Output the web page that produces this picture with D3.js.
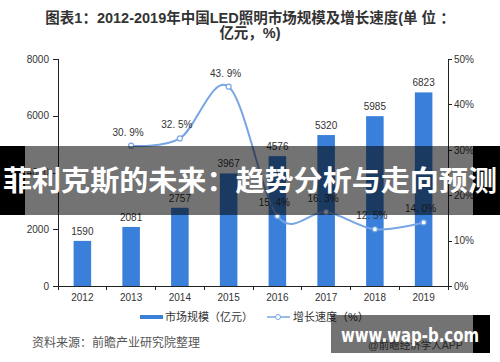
<!DOCTYPE html>
<html lang="zh">
<head>
<meta charset="UTF-8">
<title>LED照明市场规模</title>
<script src="https://d3js.org/d3.v7.min.js"></script>
<style>
  body { margin: 0; background: #fff; }
  svg { display: block; font-family: "Liberation Sans", "Noto Sans CJK SC", sans-serif; }
  .axis path, .axis line { stroke: #222; shape-rendering: crispEdges; }
  .axis text { font-size: 10px; fill: #333; }
</style>
</head>
<body>
<svg width="500" height="362"></svg>
<script>
// data
var years = ["2012", "2013", "2014", "2015", "2016", "2017", "2018", "2019"];
var marketSize = [1590, 2081, 2757, 3967, 4576, 5320, 5985, 6823];
var growthRate = [null, 30.9, 32.5, 43.9, 15.4, 16.3, 12.5, 14.0];
var leftTicks = [0, 2000, 4000, 6000, 8000];
var rightTicks = [0, 10, 20, 30, 40, 50];

var svg = d3.select("svg"),
    margin = {top: 59, right: 52, bottom: 76, left: 58},
    width = 500 - margin.left - margin.right,
    height = 362 - margin.top - margin.bottom,
    g = svg.append("g").attr("transform", "translate(" + margin.left + "," + margin.top + ")");

var barColor = "#3a80da", lineColor = "#78a6e4";

// title
svg.append("text").attr("x", 250).attr("y", 23).attr("text-anchor", "middle")
    .style("font-size", "14.5px").style("font-weight", "bold").attr("fill", "#333")
    .text("图表1：2012-2019年中国LED照明市场规模及增长速度(单 位 ：");
svg.append("text").attr("x", 250).attr("y", 38).attr("text-anchor", "middle")
    .style("font-size", "14.5px").style("font-weight", "bold").attr("fill", "#333")
    .text("亿元，%)");

var x = d3.scaleBand().domain(years).range([0, width]).paddingInner(0.64).paddingOuter(0.32);
var xb = d3.scaleBand().domain(years).range([0, width]);
var y = d3.scaleLinear().domain([0, 8000]).range([height, 0]);
var y2 = d3.scaleLinear().domain([0, 50]).range([height, 0]);

// axes
g.append("g").attr("class", "axis")
    .call(d3.axisLeft(y).tickValues(leftTicks).tickSize(5).tickPadding(4).tickFormat(d3.format("d")));
g.append("g").attr("class", "axis")
    .attr("transform", "translate(" + width + ",0)")
    .call(d3.axisRight(y2).tickValues(rightTicks).tickSize(4).tickPadding(2).tickFormat(function(d) { return d + "%"; }));

var xAxis = g.append("g").attr("class", "axis")
    .attr("transform", "translate(0," + height + ")")
    .call(d3.axisBottom(xb).tickSize(0).tickPadding(8));
xAxis.selectAll(".bound")
    .data(d3.range(years.length + 1))
    .enter().append("line").attr("class", "bound")
    .attr("x1", function(i) { return i * xb.bandwidth(); })
    .attr("x2", function(i) { return i * xb.bandwidth(); })
    .attr("y1", 0).attr("y2", 4);
xAxis.selectAll("path").attr("d", "M0,0.5H" + width);

// bars
g.selectAll(".bar").data(marketSize).enter().append("rect")
    .attr("class", "bar")
    .attr("x", function(d, i) { return x(years[i]); })
    .attr("y", function(d) { return y(d); })
    .attr("width", x.bandwidth())
    .attr("height", function(d) { return height - y(d); })
    .attr("fill", barColor);

g.selectAll(".barLabel").data(marketSize).enter().append("text")
    .attr("x", function(d, i) { return xb(years[i]) + xb.bandwidth() / 2; })
    .attr("y", function(d) { return y(d) - 6; })
    .attr("text-anchor", "middle")
    .style("font-size", "10px").attr("fill", "#333")
    .text(function(d) { return d; });

// growth line
var pts = growthRate.map(function(v, i) { return {year: years[i], v: v}; })
    .filter(function(d) { return d.v !== null; });
var line = d3.line()
    .x(function(d) { return xb(d.year) + xb.bandwidth() / 2; })
    .y(function(d) { return y2(d.v); })
    .curve(d3.curveCatmullRom.alpha(0));
g.append("path").datum(pts).attr("d", line)
    .attr("fill", "none").attr("stroke", lineColor).attr("stroke-width", 2);
g.selectAll(".pt").data(pts).enter().append("circle")
    .attr("cx", function(d) { return xb(d.year) + xb.bandwidth() / 2; })
    .attr("cy", function(d) { return y2(d.v); })
    .attr("r", 2.5).attr("fill", "#fff").attr("stroke", lineColor).attr("stroke-width", 1.2);
g.selectAll(".ptLabel").data(pts).enter().append("text")
    .attr("x", function(d) { return xb(d.year) + xb.bandwidth() / 2 - 3; })
    .attr("y", function(d) { return y2(d.v) - 10; })
    .attr("text-anchor", "middle")
    .style("font-size", "10px").attr("fill", "#333")
    .text(function(d) { return d.v.toFixed(1).replace(".", ". ") + "%"; });

// legend
var lg = svg.append("g").style("font-size", "11px").attr("fill", "#333");
lg.append("rect").attr("x", 140).attr("y", 315).attr("width", 23).attr("height", 4).attr("fill", barColor);
lg.append("text").attr("x", 165).attr("y", 321).text("市场规模（亿元）");
lg.append("line").attr("x1", 267).attr("x2", 290).attr("y1", 317).attr("y2", 317)
    .attr("stroke", lineColor).attr("stroke-width", 1.5);
lg.append("circle").attr("cx", 278).attr("cy", 317).attr("r", 2.5)
    .attr("fill", "#fff").attr("stroke", lineColor);
lg.append("text").attr("x", 293).attr("y", 321).text("增长速度（%）");

// source
svg.append("text").attr("x", 32).attr("y", 347).style("font-size", "12px").attr("fill", "#555")
    .text("资料来源：前瞻产业研究院整理");
svg.append("text").attr("x", 368).attr("y", 349).style("font-size", "10.5px").attr("fill", "#555")
    .text("@前瞻经济学人APP");

// overlay banner
svg.append("rect").attr("x", 0).attr("y", 146).attr("width", 500).attr("height", 69)
    .attr("fill", "#000").attr("fill-opacity", 0.55);
svg.append("rect").attr("x", 0).attr("y", 146).attr("width", 25).attr("height", 69).attr("fill", "#000");
svg.append("rect").attr("x", 473).attr("y", 146).attr("width", 27).attr("height", 69).attr("fill", "#000");
svg.append("text").attr("x", 3).attr("y", 191)
    .attr("textLength", 494).attr("lengthAdjust", "spacingAndGlyphs")
    .style("font-size", "28px").style("font-weight", "bold").attr("fill", "#fff")
    .style("font-family", "'Noto Sans CJK SC', sans-serif")
    .text("菲利克斯的未来：趋势分析与走向预测");

// site mark
svg.append("rect").attr("x", 331).attr("y", 315).attr("width", 142).attr("height", 38)
    .attr("fill", "#000").attr("fill-opacity", 0.55);
svg.append("rect").attr("x", 473).attr("y", 315).attr("width", 17).attr("height", 38).attr("fill", "#000");
svg.append("text").attr("x", 341).attr("y", 342)
    .attr("textLength", 138).attr("lengthAdjust", "spacingAndGlyphs")
    .style("font-size", "20px").style("font-weight", "bold").attr("fill", "#fff")
    .style("font-family", "'DejaVu Sans', sans-serif")
    .text("www.wap-b.com");
</script>
</body>
</html>
